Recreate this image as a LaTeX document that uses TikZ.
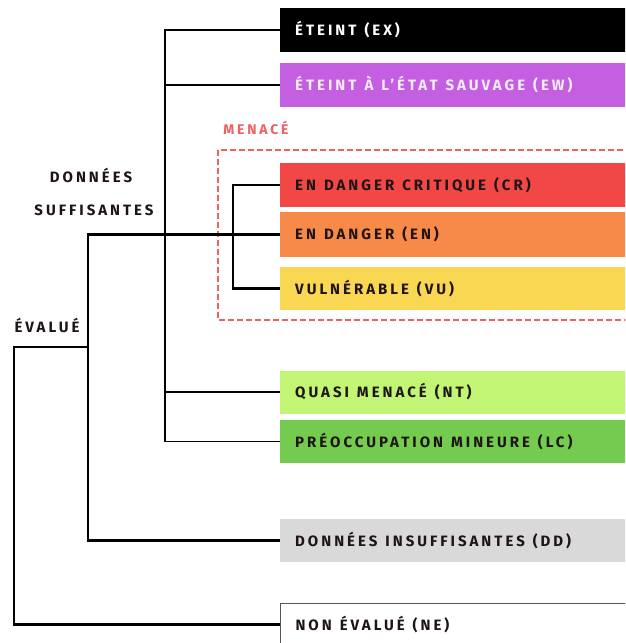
\documentclass[tikz,border=0pt]{standalone}
\usepackage{fontspec}
\setmainfont{Fira Sans}[LetterSpace=20]
\definecolor{cEX}{HTML}{000000}
\definecolor{cEW}{HTML}{C35FE0}
\definecolor{cEWt}{HTML}{F6ECFA}
\definecolor{cCR}{HTML}{F24747}
\definecolor{cEN}{HTML}{F78A48}
\definecolor{cVU}{HTML}{F9D752}
\definecolor{cNT}{HTML}{C3F575}
\definecolor{cLC}{HTML}{74CB4F}
\definecolor{cDD}{HTML}{D9D9D9}
\definecolor{cNEb}{HTML}{555555}
\definecolor{cThr}{HTML}{F06060}
\definecolor{ink}{HTML}{1E1414}
\newcommand{\catfont}{\fontsize{15}{17}\selectfont\bfseries}
\newcommand{\gp}{\hspace{8pt}}
\begin{document}
\begin{tikzpicture}[x=1pt,y=-1pt,
  catbox/.style={anchor=west, minimum height=44pt, text width=330pt, inner xsep=15pt,
    inner ysep=0pt, align=left, font=\catfont, text=ink},
  conn/.style={line width=2.2pt, black},
  lbl/.style={font=\catfont, text=ink, inner sep=0pt}]
\clip (0,0) rectangle (625,643);
\useasboundingbox (0,0) rectangle (625,643);
% threatened frame
\draw[cThr, line width=1.1pt, dash pattern=on 6pt off 3pt] (218,150) rectangle (660,320);
\node[lbl, text=cThr, font=\fontsize{14}{16}\selectfont\bfseries] (menace) at (256,128) {MENACÉ};
% category boxes
\node[catbox, fill=cEX, text=white] (ex) at (280,30) {ÉTEINT\gp (EX)};
\node[catbox, fill=cEW, text=cEWt] (ew) at (280,85) {ÉTEINT\gp À\gp L'ÉTAT\gp SAUVAGE\gp (EW)};
\node[catbox, fill=cCR] (cr) at (280,185) {EN\gp DANGER\gp CRITIQUE\gp (CR)};
\node[catbox, fill=cEN, minimum height=45pt] (en) at (280,234.5) {EN\gp DANGER\gp (EN)};
\node[catbox, fill=cVU, minimum height=43pt] (vu) at (280,288.5) {VULNÉRABLE\gp (VU)};
\node[catbox, fill=cNT, minimum height=43pt] (nt) at (280,392) {QUASI\gp MENACÉ\gp (NT)};
\node[catbox, fill=cLC, minimum height=43pt] (lc) at (280,441.5) {PRÉOCCUPATION\gp MINEURE\gp (LC)};
\node[catbox, fill=cDD, minimum height=43pt] (dd) at (280,540.5) {DONNÉES\gp INSUFFISANTES\gp (DD)};
\node[catbox, fill=white, draw=cNEb, line width=1pt, minimum height=42pt] (ne) at (280,624.5) {NON\gp ÉVALUÉ\gp (NE)};
% group labels
\node[lbl] (ds1) at (91,175) {DONNÉES};
\node[lbl] (ds2) at (94,210) {SUFFISANTES};
\node[lbl] (eval) at (47,325) {ÉVALUÉ};
% junction coordinates
\coordinate (dsx) at (165,0);
\coordinate (thx) at (233,0);
\coordinate (evx) at (88,0);
\coordinate (root) at (14,347);
% connectors
\draw[conn, line width=1.6pt] (ex.west) -- (ex.west -| dsx) -- (lc.west -| dsx) -- (lc.west);
\draw[conn, line width=1.6pt] (ew.west) -- (ew.west -| dsx);
\draw[conn, line width=1.6pt] (nt.west) -- (nt.west -| dsx);
\draw[conn] (cr.west) -- (cr.west -| thx) -- (vu.west -| thx) -- (vu.west);
\draw[conn] (en.west) -- (en.west -| evx) -- (dd.west -| evx) -- (dd.west);
\draw[conn] (evx |- root) -- (root) -- (ne.west -| root) -- (ne.west);
\end{tikzpicture}
\end{document}
